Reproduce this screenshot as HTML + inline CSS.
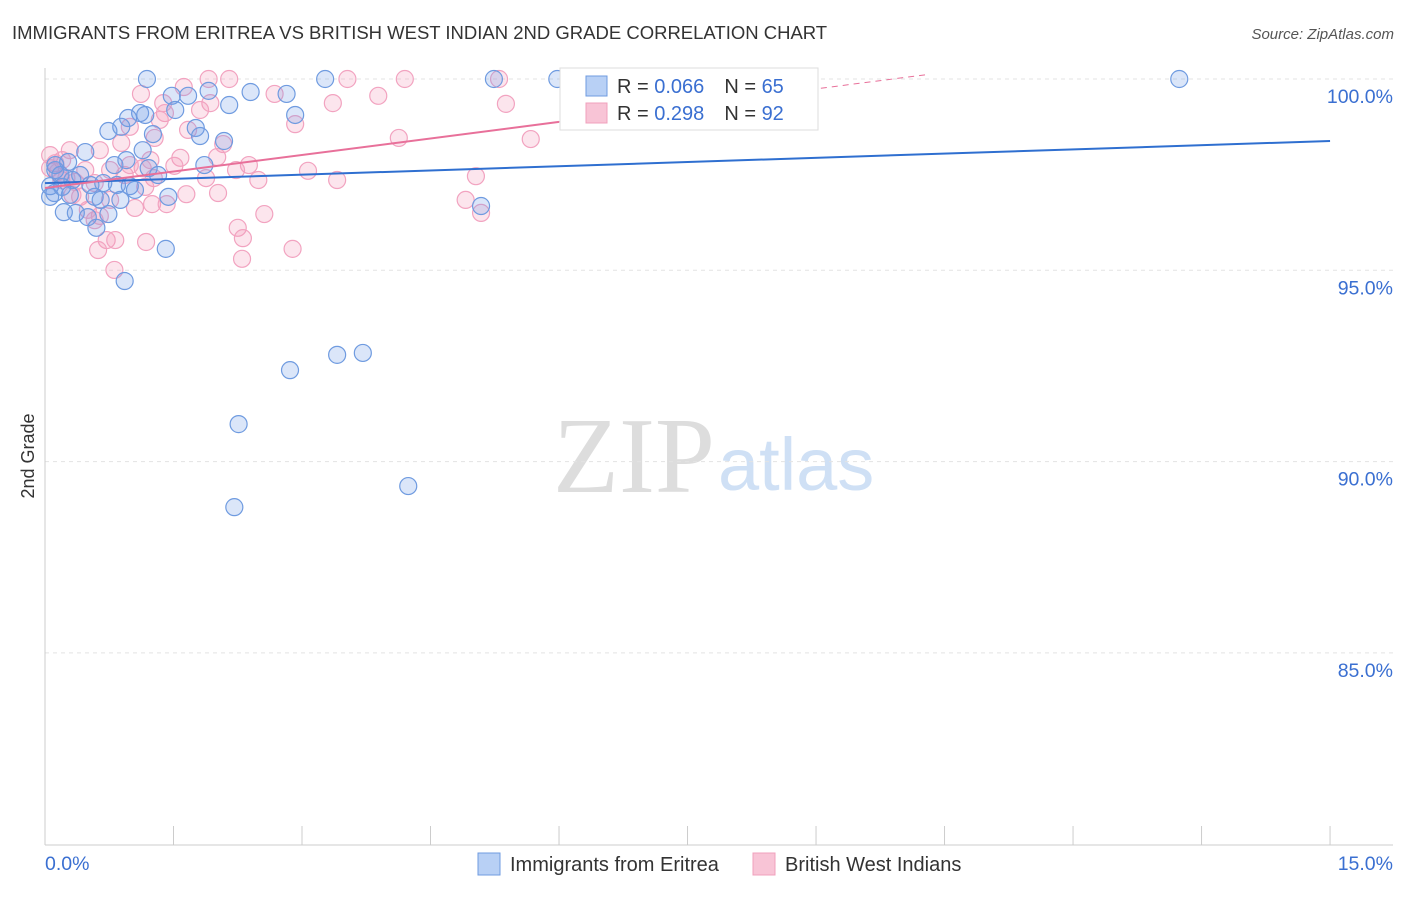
<!DOCTYPE html>
<html><head><meta charset="utf-8"><style>
body{margin:0;background:#fff;font-family:"Liberation Sans",sans-serif}
</style></head><body>
<svg width="1406" height="892" xmlns="http://www.w3.org/2000/svg" id="chart" font-family="Liberation Sans, sans-serif">
<text x="12" y="39" font-size="18.5" fill="#333">IMMIGRANTS FROM ERITREA VS BRITISH WEST INDIAN 2ND GRADE CORRELATION CHART</text>
<text x="1394" y="39" font-size="15" fill="#555" text-anchor="end" font-style="italic">Source: ZipAtlas.com</text>
<text x="553" y="492" font-size="108" fill="#ddd" font-family="Liberation Serif, serif">ZIP</text>
<text x="718" y="490" font-size="74" fill="#cfe0f5">atlas</text>
<text x="34" y="456" font-size="18" fill="#333" transform="rotate(-90 34 456)" text-anchor="middle">2nd Grade</text>
<g id="grid"></g><g id="axes"></g><g id="pts"></g><g id="lines"></g>
<g>
<rect x="560" y="68" width="258" height="62" fill="#fff" stroke="#ddd"/>
<rect x="586" y="76" width="21" height="20" fill="#b8d0f5" stroke="#6f9be0"/>
<rect x="586" y="103" width="21" height="20" fill="#f8c4d6" stroke="#f0a0bc"/>
<text x="617" y="93" font-size="20" fill="#333">R = <tspan fill="#3a6fd1">0.066</tspan><tspan dx="20">N = </tspan><tspan fill="#3a6fd1">65</tspan></text>
<text x="617" y="120" font-size="20" fill="#333">R = <tspan fill="#3a6fd1">0.298</tspan><tspan dx="20">N = </tspan><tspan fill="#3a6fd1">92</tspan></text>
</g>
<g>
<rect x="478" y="853" width="22" height="22" fill="#b8d0f5" stroke="#6f9be0"/>
<text x="510" y="871" font-size="20" fill="#333">Immigrants from Eritrea</text>
<rect x="753" y="853" width="22" height="22" fill="#f8c4d6" stroke="#f0a0bc"/>
<text x="785" y="871" font-size="20" fill="#333">British West Indians</text>
</g>
</svg>
<script>
const yTicks=[100,95,90,85];
const yTickLabels=["100.0%","95.0%","90.0%","85.0%"];
const xTicks=[0,1.5,3,4.5,6,7.5,9,10.5,12,13.5,15];
const xEndLabels=["0.0%","15.0%"];
const blueX=[1.19,3.27,5.24,5.98,13.24,6.74,1.48,1.67,1.91,2.40,2.82,2.15,1.52,1.11,0.97,1.17,0.74,0.89,1.26,1.76,1.81,2.09,2.92,0.47,0.81,0.95,1.14,1.21,1.32,1.86,0.27,0.12,0.18,0.32,0.53,0.68,0.84,0.99,1.05,1.44,0.58,0.11,0.06,0.22,0.36,0.50,0.74,0.60,1.41,0.93,2.86,3.41,3.71,2.26,4.24,2.21,5.09,0.06,0.12,0.41,0.65,0.88,0.29,0.20];
const blueY=[100,100,100,100,100,100,99.56,99.56,99.69,99.66,99.61,99.32,99.19,99.11,98.98,99.06,98.64,98.75,98.56,98.72,98.51,98.38,99.06,98.09,97.75,97.88,98.14,97.67,97.49,97.75,97.83,97.62,97.49,97.36,97.23,97.28,97.23,97.20,97.10,96.92,96.92,97.02,96.92,96.52,96.50,96.39,96.47,96.11,95.56,94.72,92.39,92.79,92.84,90.98,89.36,88.81,96.68,97.20,97.75,97.49,96.84,96.84,96.97,97.18];
const pinkX=[1.91,2.15,3.53,4.20,5.30,1.62,1.12,2.68,3.89,3.36,5.38,1.93,1.38,1.40,1.67,2.92,4.13,5.67,0.99,1.28,2.08,0.89,0.29,0.06,1.58,2.01,1.23,0.20,0.12,0.47,0.76,1.14,1.51,2.38,2.23,3.07,0.93,1.27,3.41,5.03,0.19,0.35,0.58,1.88,1.17,1.65,2.02,0.41,0.76,1.25,1.42,1.05,4.91,5.09,2.56,0.64,0.58,2.25,2.31,0.72,0.82,1.18,0.62,2.89,2.30,0.81,0.06,0.15,0.25,0.32,0.50,0.99,1.34,1.81,2.49,0.64];
const pinkY=[100,100,100,100,100,99.79,99.61,99.61,99.56,99.37,99.35,99.37,99.37,99.11,98.67,98.82,98.46,98.43,98.75,98.46,98.30,98.33,98.14,98.01,97.94,97.96,97.88,97.88,97.80,97.62,97.62,97.67,97.73,97.75,97.62,97.60,97.49,97.41,97.36,97.46,97.36,97.31,97.28,97.41,97.18,96.99,97.02,96.92,96.84,96.73,96.73,96.63,96.84,96.50,96.47,96.42,96.31,96.11,95.84,95.79,95.79,95.74,95.53,95.56,95.30,95.01,97.67,97.57,97.41,96.97,96.58,97.75,98.93,99.19,97.36,98.14];
const blueLine=[97.28,98.38];
const pinkLine=[97.15,0.288];
const NS="http://www.w3.org/2000/svg";
const X=v=>45+v*85.67, Y=v=>79+(100-v)*38.26;
function mk(tag,attrs,parent){const e=document.createElementNS(NS,tag);for(const k in attrs)e.setAttribute(k,attrs[k]);document.getElementById(parent).appendChild(e);return e;}
yTicks.forEach((t,i)=>{
 const l=mk('line',{x1:45,x2:1393,y1:Y(t),y2:Y(t),stroke:'#e3e3e3','stroke-dasharray':'4,4'},'grid');
 
 
 const tx=mk('text',{x:1393,y:Y(t)+24,'font-size':19.5,fill:'#3a6fd1','text-anchor':'end'},'grid');tx.textContent=yTickLabels[i];
 
 
});
const ax=mk('line',{x1:45,x2:45,y1:68,y2:845,stroke:'#ccc'},'axes');


const bx=mk('line',{x1:45,x2:1393,y1:845,y2:845,stroke:'#ccc'},'axes');


xTicks.forEach(t=>{const l=mk('line',{x1:X(t),x2:X(t),y1:826,y2:845,stroke:'#ccc'},'axes');
 
 });
[[0,'start',45],[15,'end',1393]].forEach((a,i)=>{const t=mk('text',{x:a[2],y:870,'font-size':19.5,fill:'#3a6fd1','text-anchor':a[1]},'axes');t.textContent=xEndLabels[i];
 
 });
pinkX.forEach((v,i)=>{const c=mk('circle',{cx:X(v),cy:Y(pinkY[i]),r:8.5,fill:'rgba(244,150,185,0.25)',stroke:'#f2a3c0','stroke-width':1.2},'pts');
 
 });
blueX.forEach((v,i)=>{const c=mk('circle',{cx:X(v),cy:Y(blueY[i]),r:8.5,fill:'rgba(110,155,230,0.25)',stroke:'#6f9be0','stroke-width':1.2},'pts');
 
 });
const bl=mk('line',{x1:X(0),y1:Y(blueLine[0]),x2:X(15),y2:Y(blueLine[1]),stroke:'#2f6fd0','stroke-width':2},'lines');


const pl=mk('line',{x1:X(0),y1:Y(pinkLine[0]),x2:X(6),y2:Y(pinkLine[0]+pinkLine[1]*6),stroke:'#e8709a','stroke-width':2},'lines');


const pd=mk('line',{x1:X(6),y1:Y(pinkLine[0]+pinkLine[1]*6),x2:X(10.3),y2:Y(pinkLine[0]+pinkLine[1]*10.3),stroke:'#e8709a','stroke-width':1,'stroke-dasharray':'6,5'},'lines');


</script>
</body></html>
